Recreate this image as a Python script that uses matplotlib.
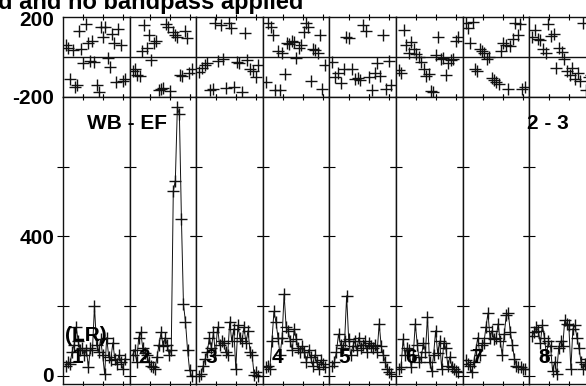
import numpy as np
import matplotlib.pyplot as plt

plt.rcParams['font.family'] = ['Liberation Sans', 'DejaVu Sans']
plt.rcParams['font.weight'] = 'bold'

# amplitude per IF (bottom panels)
amp_1 = [30, 40, 35, 70, 90, 140, 100, 75, 80, 60, 75, 25, 80, 75, 200,
         90, 70, 105, 60, 5, 110, 55, 45, 95, 50, 35, 60, 40, 20, 50]
amp_2 = [60, 75, 40, 110, 125, 80, 65, 60, 40, 30, 25, 20, 55, 90, 125,
         85, 110, 90, 60, 75, 530, 560, 770, 750, 450, 205, 155, 75, 17, 0]
amp_3 = [0, 5, 30, 50, 70, 110, 80, 125, 60, 140, 90, 100, 95, 70, 60,
         155, 100, 135, 20, 145, 110, 100, 140, 95, 130, 70, 60, 3, 10, 0]
amp_4 = [25, 30, 20, 100, 185, 155, 110, 60, 110, 235, 140, 130, 100, 75, 135,
         105, 80, 70, 85, 70, 40, 75, 55, 30, 60, 40, 20, 45, 35, 25]
amp_5 = [30, 40, 70, 120, 90, 80, 100, 230, 105, 60, 85, 100, 75, 110, 80,
         90, 100, 70, 95, 85, 80, 90, 70, 150, 85, 60, 40, 20, 10, 5]
amp_6 = [20, 25, 105, 60, 80, 75, 25, 60, 150, 90, 40, 55, 95, 70, 170,
         40, 15, 60, 130, 65, 100, 20, 95, 80, 30, 55, 25, 20, 15, 10]
amp_7 = [45, 35, 30, 10, 40, 75, 110, 60, 90, 95, 140, 180, 110, 130, 105,
         110, 150, 100, 60, 120, 175, 180, 125, 90, 50, 30, 25, 25, 20, 20]
amp_8 = [115, 125, 140, 130, 95, 145, 110, 60, 100, 85, 15, 40, 5, 80, 100,
         85, 160, 150, 145, 20, 135, 145, 110, 80, 40, 20, 35, 50, 30, 40]

# phase per IF (top panels), degrees
ph_1 = [60, 45, -110, 35, -150, -140, 130, 40, -30, 165, 70, -20, 80, -25,
        -140, -175, 150, 100, 150, -5, -50, 115, 70, -125, 140, 60, -120, -110]
ph_2 = [-70, -60, -90, -95, 30, 160, 45, 110, -15, 70, 80, -165, -160, -155,
        165, 150, -170, 125, 110, 100, -90, -95, 130, 95, -80, -60]
ph_3 = [-75, -55, -40, -30, -165, -160, 170, -20, 160, -10, -155, 170, 145,
        -150, -25, -30, -175, 120, -15, -60, -70, -100, -40]
ph_4 = [-125, 170, 150, 110, -165, 30, -165, 20, -85, 70, 65, 80, 75, -5,
        45, 60, 125, 170, 150, -120, 40, 35, 20, 110, -160, -40]
ph_5 = [-25, -100, -80, -130, -60, 100, 95, -60, -110, -105, -115, 160, 130,
        -100, -165, -80, -30, -95, 110, -160, -20, -140]
ph_6 = [-65, -80, 135, 60, 20, 75, 40, 15, 0, -25, -60, -95, -85, -170, -175,
        10, 100, -10, -5, -90, -30, -15, -10, 80, 100]
ph_7 = [170, 145, 70, 175, -60, -70, 40, 30, 20, -10, 0, -105, -115, -125,
        -135, 30, 70, 60, -160, 55, 90, 170, 110, 165, -160, -150]
ph_8 = [100, 135, 90, 85, 40, 20, 165, 105, 115, -55, 45, 25, -10, -70, -90,
        -55, -110, -80, -120, 170, -165, -100, -90]

if_labels = ['1', '2', '3', '4', '5', '6', '7', '8']
amps = [amp_1, amp_2, amp_3, amp_4, amp_5, amp_6, amp_7, amp_8]
phases = [ph_1, ph_2, ph_3, ph_4, ph_5, ph_6, ph_7, ph_8]

W, H = 586, 386
fig = plt.figure(figsize=(W / 100, H / 100), dpi=100)


def rect(x0, y0, x1, y1):
    return [x0 / W, 1 - y1 / H, (x1 - x0) / W, (y1 - y0) / H]


panel_w = 66.6
left0 = 63
ink = '#111111'

for i in range(8):
    x0 = left0 + panel_w * i
    ax_p = fig.add_axes(rect(x0, 17, x0 + panel_w, 97))
    ax_a = fig.add_axes(rect(x0, 97, x0 + panel_w, 384))

    ph = phases[i]
    xp = np.linspace(1.5, 31, len(ph))
    ax_p.plot(xp, ph, '+', color=ink, ms=8, mew=1)
    ax_p.axhline(0, color=ink, lw=1)
    ax_p.set_xlim(0, 33.3)
    ax_p.set_ylim(-200, 200)

    amp = amps[i]
    xa = np.linspace(1.5, 31, len(amp))
    ax_a.plot(xa, amp, '-', color=ink, lw=0.7)
    ax_a.plot(xa, amp, '+', color=ink, ms=8, mew=1)
    ax_a.set_xlim(0, 33.3)
    ax_a.set_ylim(-23, 800)

    for ax in (ax_p, ax_a):
        for s in ax.spines.values():
            s.set_color(ink)
            s.set_linewidth(1)
        ax.set_xticks([10, 20, 30])
        ax.tick_params(axis='x', which='both', direction='inout', length=5,
                       top=True, bottom=True, labelbottom=False, width=0.8)
    ax_p.set_yticks([])
    ax_a.set_yticks([0, 200, 400, 600])
    ax_a.tick_params(axis='y', direction='inout', length=9, left=True,
                     right=True, labelleft=False, width=0.8)

    ax_a.text(9 / panel_w, (384 - 363) / 287, if_labels[i],
              transform=ax_a.transAxes, fontsize=15, fontweight='bold',
              ha='left', va='baseline', color='black')

fs = 15
fig.text(54 / W, 1 - 21 / H, '200', ha='right', va='center', fontsize=fs)
fig.text(54 / W, 1 - 99 / H, '-200', ha='right', va='center', fontsize=fs)
fig.text(54 / W, 1 - 239 / H, '400', ha='right', va='center', fontsize=fs)
fig.text(54 / W, 1 - 377 / H, '0', ha='right', va='center', fontsize=fs)

fig.text(87 / W, 1 - 129 / H, 'WB - EF', fontsize=15, ha='left', va='baseline')
fig.text(527 / W, 1 - 129 / H, '2 - 3', fontsize=15, ha='left', va='baseline')
fig.text(65 / W, 1 - 341 / H, '(LR)', fontsize=15, ha='left', va='baseline')

fig.text(-15 / W, 1 - 9 / H, 'ed and no bandpass applied', fontsize=17,
         ha='left', va='baseline')

fig.savefig('out.png', dpi=100)
